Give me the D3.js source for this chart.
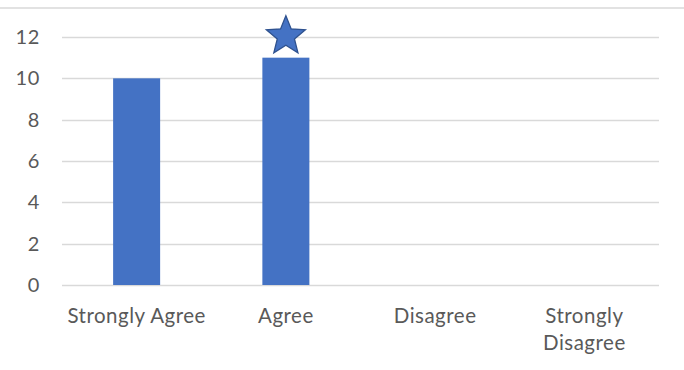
<!DOCTYPE html>
<html>
<head>
<meta charset="utf-8">
<script src="https://cdn.jsdelivr.net/npm/d3@7"></script>
<style>
  body { margin: 0; background: #fff; }
  text { font-family: Lato, "Open Sans", sans-serif; fill: #595959; }
</style>
</head>
<body>
<svg width="684" height="370"></svg>
<script>
const categories = ["Strongly Agree", "Agree", "Disagree", "Strongly Disagree"];
const counts = [10, 11, 0, 0];
const yTicks = [0, 2, 4, 6, 8, 10, 12];
const starredCategory = "Agree";

const width = 684, height = 370;
const margin = {top: 37, right: 25, bottom: 85, left: 62};

const svg = d3.select("svg");

// chart area border line at the top
svg.append("line")
  .attr("x1", 0).attr("x2", width)
  .attr("y1", 8).attr("y2", 8)
  .style("stroke", "#d9d9d9")
  .style("stroke-width", 1.5);

const x = d3.scaleBand()
  .domain(categories)
  .range([margin.left, width - margin.right])
  .paddingInner(0.685)
  .paddingOuter(0.3425);

const y = d3.scaleLinear()
  .domain([0, 12])
  .range([height - margin.bottom, margin.top]);

// gridlines
svg.append("g")
  .selectAll("line")
  .data(yTicks)
  .enter()
  .append("line")
    .attr("x1", margin.left)
    .attr("x2", width - margin.right)
    .attr("y1", d => Math.round(y(d)) + 0.5)
    .attr("y2", d => Math.round(y(d)) + 0.5)
    .style("stroke", "#d9d9d9")
    .style("stroke-width", 1.3);

// y axis labels
const yAxis = d3.axisLeft(y).tickValues(yTicks).tickSize(0).tickPadding(0);
svg.append("g")
  .attr("transform", `translate(40,0)`)
  .call(yAxis)
  .call(g => g.select(".domain").remove())
  .selectAll("text")
    .style("font-size", "20px")
    .style("letter-spacing", "0.6px")
    .style("font-family", "Lato, 'Open Sans', sans-serif")
    .attr("fill", "#595959");

// bars
svg.append("g")
  .selectAll("rect")
  .data(categories)
  .enter()
  .append("rect")
    .attr("x", d => x(d))
    .attr("width", x.bandwidth())
    .attr("y", (d, i) => y(counts[i]))
    .attr("height", (d, i) => y(0) - y(counts[i]))
    .style("fill", "#4472C4");

// x labels, wrapped to the category width
const step = x.step();
const xLabels = svg.append("g")
  .selectAll("text")
  .data(categories)
  .enter()
  .append("text")
    .attr("x", d => x(d) + x.bandwidth() / 2)
    .attr("y", 323)
    .attr("text-anchor", "middle")
    .style("font-size", "20.5px")
    .style("letter-spacing", "0.5px");

xLabels.each(function(d) {
  const t = d3.select(this);
  const words = d.split(" ");
  let line = [];
  let tspan = t.append("tspan").attr("x", t.attr("x")).attr("dy", 0);
  words.forEach(w => {
    line.push(w);
    tspan.text(line.join(" "));
    if (tspan.node().getComputedTextLength() > step - 4 && line.length > 1) {
      line.pop();
      tspan.text(line.join(" "));
      line = [w];
      tspan = t.append("tspan").attr("x", t.attr("x")).attr("dy", 27).text(w);
    }
  });
});

// star marker above the starred bar
const starIdx = categories.indexOf(starredCategory);
const R = 20.5, r = R * 0.44;
const starPts = d3.range(10).map(k => {
  const a = -Math.PI / 2 + k * Math.PI / 5;
  const rad = k % 2 === 0 ? R : r;
  return [rad * Math.cos(a), rad * Math.sin(a)];
});
svg.append("path")
  .attr("d", d3.line()(starPts) + "Z")
  .attr("transform", `translate(${x(starredCategory) + x.bandwidth() / 2}, ${y(counts[starIdx]) - 21.5})`)
  .style("fill", "#4472C4")
  .style("stroke", "#2F528F")
  .style("stroke-width", 1.3);
</script>
</body>
</html>
